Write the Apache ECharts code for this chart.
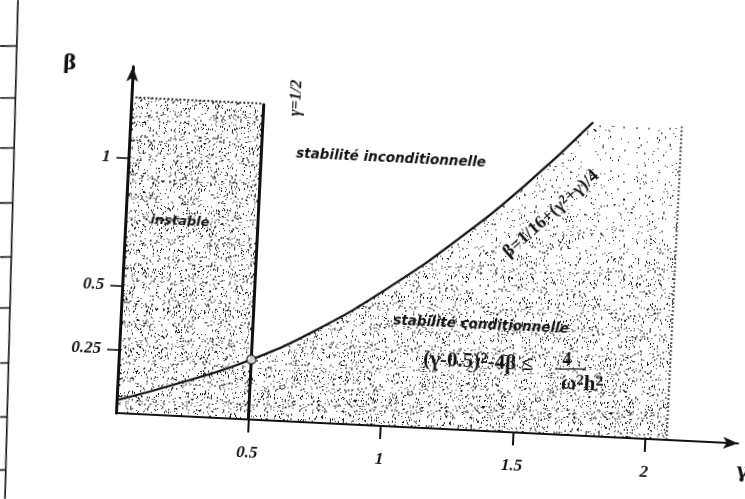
<!DOCTYPE html>
<html>
<head>
<meta charset="utf-8">
<script src="https://cdn.jsdelivr.net/npm/echarts@6/dist/echarts.min.js"></script>
<style>
    html, body { margin: 0; padding: 0; background: #fff; width: 745px; height: 499px; overflow: hidden; }
    /* scanned page is slightly tilted: rotate the whole drawing about the origin */
    #chart { position: absolute; left: -40px; top: -40px; width: 825px; height: 579px;
             transform-origin: 156px 453px; transform: rotate(2.8deg); }
</style>
</head>
<body>
<div id="chart"></div>
<script>
// ticks
var xTicks = [0.5, 1, 1.5, 2];
var yTicks = [0.25, 0.5, 1];
// curve beta = 1/16 + (gamma^2 + gamma)/4
var curveGamma = [0, 0.25, 0.5, 0.75, 1, 1.25, 1.5, 1.745];
var curveBeta = [0.05, 0.135, 0.235, 0.37, 0.54, 0.74, 0.97, 1.23];
// unstable zone 0 <= gamma <= 1/2
var unstableGamma = [0, 0.5];
var unstableTop = 1.24;
// right edge of the conditional zone
var condEdgeGamma = 2.08;
var condEdgeBeta = 1.23;
// marked point on gamma = 1/2
var halfPoint = [0.5, 0.235];

(function () {
    var PAD = 40, OX = 116, OY = 413, TILT = 2.8 * Math.PI / 180;
    var X_UNIT = 265, Y_UNIT = 255, X_MAX = 2.35, Y_MAX = 1.36;

    // page coords (as seen on the tilted scan) -> chart canvas coords
    var unrot = function (x, y) {
        var dx = x - OX, dy = y - OY;
        var c = Math.cos(TILT), s = Math.sin(TILT);
        return [OX + PAD + dx * c + dy * s, OY + PAD - dx * s + dy * c];
    };

    // speckle texture imitating the scanned grey
    var speckle = function (w, h, densityAt, seed) {
        var cv = document.createElement('canvas');
        cv.width = w;
        cv.height = h;
        var ctx = cv.getContext('2d');
        ctx.fillStyle = '#1a1a1a';
        var st = seed | 0;
        var rnd = function () {
            st ^= st << 13; st ^= st >>> 17; st ^= st << 5;
            return (st >>> 0) / 4294967296;
        };
        for (var y = 0; y < h; y++) {
            var d = densityAt(y);
            for (var x = 0; x < w; x++) {
                if (rnd() < d) ctx.fillRect(x, y, 1, rnd() < 0.3 ? 2 : 1);
            }
        }
        return cv;
    };

    var unstableTex = speckle(128, 128, function () { return 0.085; }, 12345);
    var condTex = speckle(128, 579, function (y) {
        var b = (OY + PAD - y) / Y_UNIT;
        return Math.max(0.015, 0.1 - 0.08 * b / 1.1);
    }, 67890);

    var curveData = curveGamma.map(function (g, i) { return [g, curveBeta[i]]; });
    var condData = curveData.filter(function (p) { return p[0] >= 0.5; });
    condData.push([condEdgeGamma, condEdgeBeta]);
    var unstableData = unstableGamma.map(function (g) { return [g, unstableTop]; });

    var labelFont = {
        fontFamily: 'Liberation Serif', fontStyle: 'italic', fontWeight: 'bold',
        fontSize: 17, color: '#111'
    };

    var txt = function (text, px, py, opt) {
        var p = unrot(px, py);
        opt = opt || {};
        var size = opt.size || 12;
        return {
            type: 'text', x: p[0], y: p[1], rotation: opt.rotation || 0, z: 50,
            style: {
                text: text, fill: '#111',
                fontFamily: opt.family || 'DejaVu Sans',
                fontStyle: opt.style || 'italic',
                fontWeight: opt.weight || 'bold',
                fontSize: size,
                align: opt.align || 'center', verticalAlign: 'middle',
                rich: {
                    s: { fontSize: Math.round(size * 0.7), verticalAlign: 'top', fontWeight: 'bold',
                         fontFamily: opt.family || 'DejaVu Sans', fill: '#111' }
                }
            }
        };
    };

    var seg = function (x1, y1, x2, y2, w) {
        var a = unrot(x1, y1), b = unrot(x2, y2);
        return {
            type: 'line', z: 50,
            shape: { x1: a[0], y1: a[1], x2: b[0], y2: b[1] },
            style: { stroke: '#111', lineWidth: w || 1.5 }
        };
    };

    var serif = { family: 'Liberation Serif', style: 'normal' };
    var graphics = [
        txt('β', 70, 64, { family: 'DejaVu Serif', style: 'normal', size: 20 }),
        txt('γ', 736, 472, { family: 'DejaVu Serif', style: 'normal', size: 20, align: 'left' }),
        txt('γ=1/2', 296, 98, { family: 'Liberation Serif', size: 16, rotation: Math.PI / 2 }),
        txt('stabilité inconditionnelle', 391, 159, { size: 13.5 }),
        txt('instable', 180, 222, { size: 13 }),
        txt('stabilité conditionnelle', 481, 325, { size: 13.5 }),
        txt('(γ-0.5){s|2}-4β ≤', 478, 362, Object.assign({ size: 21 }, serif)),
        txt('4', 567, 360, Object.assign({ size: 18 }, serif)),
        seg(555, 369, 585, 369, 1.4),
        txt('ω{s|2}h{s|2}', 582, 384, Object.assign({ size: 21 }, serif)),
        txt('β=1/16+(γ{s|2}+γ)/4', 551, 214, Object.assign({ size: 18, rotation: 44.5 * Math.PI / 180 }, serif))
    ];

    // border of the scanned page on the left
    var frameY = [46, 98, 148, 203, 257, 308, 363, 417, 470];
    var frameX = function (y) { return 18 - 13 * y / 499; };
    graphics.push(seg(frameX(0), 0, frameX(499), 499, 1.6));
    frameY.forEach(function (y) {
        graphics.push(seg(0, y, frameX(y), y, 1.6));
    });

    var chart = echarts.init(document.getElementById('chart'));
    chart.setOption({
        animation: false,
        backgroundColor: '#fff',
        grid: {
            left: OX + PAD, top: OY + PAD - Y_MAX * Y_UNIT,
            width: X_MAX * X_UNIT, height: Y_MAX * Y_UNIT,
            outerBoundsMode: 'none'
        },
        xAxis: {
            type: 'value', min: 0, max: X_MAX, z: 10,
            splitLine: { show: false },
            axisLine: {
                onZero: false, symbol: ['none', 'arrow'], symbolSize: [9, 15],
                lineStyle: { color: '#111', width: 2.2 }
            },
            axisTick: { customValues: xTicks, length: 13, lineStyle: { color: '#111', width: 2 } },
            axisLabel: Object.assign({ customValues: xTicks, margin: 25 }, labelFont)
        },
        yAxis: {
            type: 'value', min: 0, max: Y_MAX, z: 10,
            splitLine: { show: false },
            axisLine: {
                show: true, onZero: false, symbol: ['none', 'arrow'], symbolSize: [9, 15],
                lineStyle: { color: '#111', width: 3 }
            },
            axisTick: { show: true, customValues: yTicks, length: 12, lineStyle: { color: '#111', width: 1.6 } },
            axisLabel: Object.assign({ customValues: yTicks, margin: 18 }, labelFont)
        },
        series: [
            {
                // conditional stability zone
                type: 'line', data: condData, symbol: 'none', silent: true, z: 1,
                lineStyle: { opacity: 0 },
                areaStyle: { color: { image: condTex, repeat: 'repeat' }, opacity: 1 }
            },
            {
                type: 'line', data: [[condEdgeGamma, 0], [condEdgeGamma, condEdgeBeta]],
                symbol: 'none', silent: true, z: 2,
                lineStyle: { color: '#555', width: 2, type: 'dotted' }
            },
            {
                // unstable zone
                type: 'line', data: unstableData, symbol: 'none', silent: true, z: 3,
                lineStyle: { color: '#333', width: 2, type: 'dotted' },
                areaStyle: { color: { image: unstableTex, repeat: 'repeat' }, opacity: 1 }
            },
            {
                // gamma = 1/2
                type: 'line', data: [[0.5, 0], [0.5, unstableTop]], symbol: 'none', silent: true, z: 4,
                lineStyle: { color: '#111', width: 3 }
            },
            {
                type: 'line', data: curveData, smooth: true, symbol: 'none', silent: true, z: 5,
                lineStyle: { color: '#111', width: 2.2 }
            },
            {
                type: 'scatter', data: [halfPoint], symbolSize: 9, silent: true, z: 6,
                itemStyle: { color: '#fff', borderColor: '#111', borderWidth: 1.5 }
            }
        ],
        graphic: graphics
    });
})();
</script>
</body>
</html>
